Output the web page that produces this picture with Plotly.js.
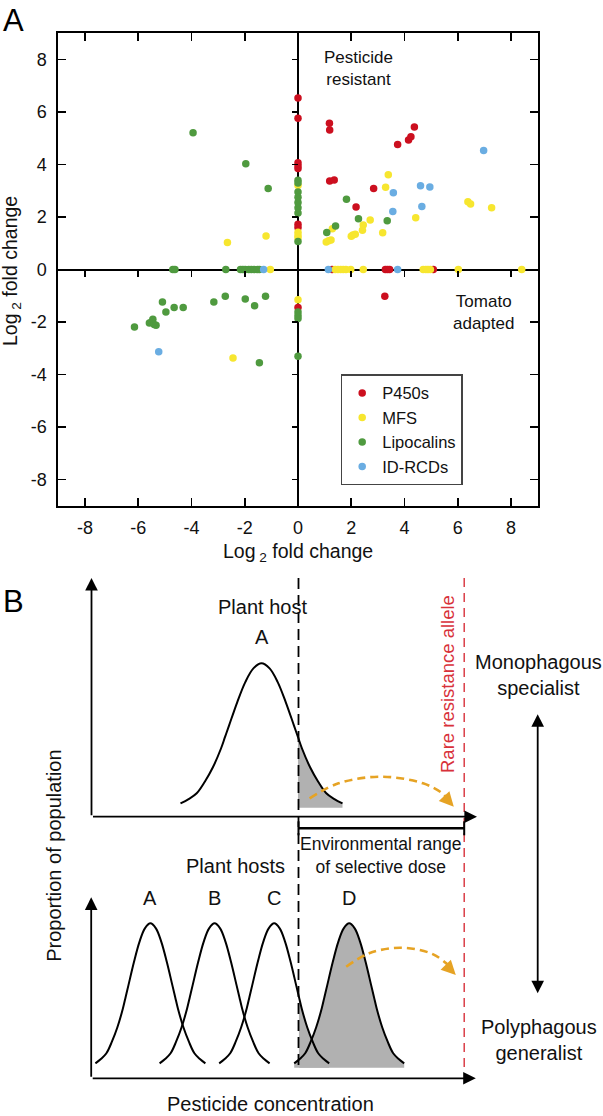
<!DOCTYPE html>
<html><head><meta charset="utf-8">
<script src="https://cdn.plot.ly/plotly-3.0.1.min.js"></script>
<style>html,body{margin:0;padding:0;background:#fff}#chart{width:603px;height:1116px}</style>
</head><body><div id="chart"></div>
<script>
// ---------------- Panel A data (log2 fold change) ----------------
const seriesNames = ['P450s', 'MFS', 'Lipocalins', 'ID-RCDs'];

const p450X = [0, 0, 0, 0, 0, 0, 0, 0, 1.18, 1.19, 1.19, 1.36, 2.84, 2.18, 3.74, 4.15, 4.24, 4.37, 3.26, 1.28, 3.28, 3.36, 3.44, 5.08];
const p450Y = [6.53, 5.76, 4.07, 3.95, 3.85, 1.72, 1.6, -1.45, 5.57, 5.32, 3.37, 3.41, 3.09, 2.38, 4.76, 4.93, 5.06, 5.43, -1.02, 0, 0, 0, 0, 0];

const mfsX = [0, 0, 0, 0, 0, -2.65, -1.2, -2.44, -1.04, 3.39, 3.29, 2.71, 2.45, 2.42, 3.18, 4.42, 6.38, 6.48, 7.27, 2.0, 2.06, 2.15, 1.29, 1.06, 1.24, 1.15, 1.4, 1.5, 1.6, 1.7, 1.8, 1.98, 2.45, 4.7, 4.8, 4.88, 4.97, 6.02, 8.4];
const mfsY = [3.2, 1.42, 1.3, 1.2, -1.15, 1.03, 1.28, -3.37, 0, 3.61, 3.13, 1.89, 1.7, 1.5, 1.4, 1.97, 2.58, 2.5, 2.35, 1.27, 1.31, 1.34, 1.55, 1.05, 1.12, 1.1, 0, 0, 0, 0, 0, 0, 0, 0, 0, 0, 0, 0, 0];

const lipoX = [0, 0, 0, 0, 0, 0, 0, 0, 0, 0, 0, 0, -3.94, -1.96, -1.12, 1.08, 1.41, 1.82, 2.27, 3.35, -6.14, -5.58, -5.5, -5.45, -5.4, -5.33, -5.09, -4.96, -4.65, -4.31, -3.16, -2.73, -1.98, -1.63, -1.22, -1.45, -4.7, -4.62, -2.71, -2.16, -2.07, -1.98, -1.85, -1.75, -1.65, -1.53, -1.45];
const lipoY = [3.4, 3.3, 2.95, 2.75, 2.55, 2.35, 2.15, 1.07, -1.62, -1.75, -1.87, -3.31, 5.21, 4.03, 3.09, 1.41, 1.66, 2.68, 1.93, 1.86, -2.19, -2.04, -2.0, -1.9, -2.1, -2.12, -1.24, -1.62, -1.45, -1.45, -1.24, -1.02, -1.12, -1.38, -1.02, -3.55, 0, 0, 0, 0, 0, 0, 0, 0, 0, 0, 0];

const rcdX = [6.97, 4.6, 4.95, 3.58, 4.65, 3.56, -5.23, -1.29, 1.14, 3.74];
const rcdY = [4.53, 3.19, 3.14, 2.92, 2.4, 2.21, -3.13, 0, 0, 0];

const axisTicks = [-8, -6, -4, -2, 0, 2, 4, 6, 8];
const axisTickLabels = ['-8', '-6', '-4', '-2', '0', '2', '4', '6', '8'];

// ---------------- Panel B schematic values ----------------
// bell-curve profile: offset (in half-widths) and relative height
const profileU = [-1, -0.9, -0.8, -0.7, -0.6, -0.5, -0.45, -0.4, -0.3, -0.2, -0.1, 0, 0.1, 0.2, 0.3, 0.4, 0.45, 0.5, 0.6, 0.7, 0.8, 0.9, 1];
const profileH = [0.03, 0.06, 0.1, 0.18, 0.28, 0.41, 0.49, 0.57, 0.73, 0.87, 0.965, 1, 0.965, 0.87, 0.73, 0.57, 0.49, 0.41, 0.28, 0.18, 0.1, 0.06, 0.03];
const hostLabelsTop = ['A'];
const hostLabelsBottom = ['A', 'B', 'C', 'D'];

// ---------------- schematic geometry (pixel frame of panel B) ----------------
const G = {
  top: {center: [261.5], half: 81, base: 807.7, peak: 663.3, axisX: 91.5, axisY: 816.7, axisTop: 578, axisRight: 477},
  bot: {center: [150.4, 214.6, 274.2, 349.2], half: 55, base: 1067.7, peak: 923.3, axisX: 91.2, axisY: 1078.3, axisTop: 897.3, axisRight: 475.8},
  doseX: 298.5, alleleX: 464.2, lineTop: 578, lineBottom: 1068, barY: 828.3
};
const arcTopX = [309.6, 338.5, 380.8, 423, 442.3, 449];
const arcTopY = [798.3, 783.3, 776.7, 783.3, 793.3, 801];
const arcBotX = [346.2, 369.2, 400, 430.8, 446.2, 451];
const arcBotY = [966.7, 953.3, 947.7, 953.3, 963.3, 969.5];

const colors = ['#cc0f1f', '#f7e62f', '#4f9a3f', '#6aade2'];
const FONT = 'Liberation Sans, Arial, Helvetica, sans-serif';
const GREY = '#b1b1b1';
const ORANGE = '#e6a324';
const RED = '#d8313a';

const W = 603, H = 1116;
const xDomA = [58.3 / W, 537.7 / W];
const yDomA = [1 - 505.7 / H, 1 - 33.3 / H];

const traces = [];
const seriesX = [p450X, mfsX, lipoX, rcdX];
const seriesY = [p450Y, mfsY, lipoY, rcdY];
seriesNames.forEach((n, i) => {
  traces.push({type: 'scatter', mode: 'markers', name: n, x: seriesX[i], y: seriesY[i],
    xaxis: 'x', yaxis: 'y', marker: {color: colors[i], size: 7.5, line: {width: 0}}, cliponaxis: false});
});
// helper axes for ticks on the zero lines
traces.push({type: 'scatter', x: [], y: [], xaxis: 'x3', yaxis: 'y3', showlegend: false, hoverinfo: 'skip'});

// Panel B curves
function curve(center, g) {
  return {
    x: profileU.map(u => center + u * g.half),
    y: profileH.map(h => g.base - h * (g.base - g.peak))
  };
}
function tailFill(center, g) {
  const c = curve(center, g);
  const xs = [], ys = [];
  profileU.forEach((u, i) => { if (u >= 0.45) { xs.push(c.x[i]); ys.push(c.y[i]); } });
  xs.push(xs[xs.length - 1], xs[0], xs[0]);
  ys.push(g.base, g.base, ys[0]);
  return {x: xs, y: ys};
}
function fullFill(center, g) {
  const c = curve(center, g);
  return {x: c.x.concat([c.x[c.x.length - 1], c.x[0]]), y: c.y.concat([g.base, g.base])};
}
const fills = [tailFill(G.top.center[0], G.top), tailFill(G.bot.center[2], G.bot), fullFill(G.bot.center[3], G.bot)];
fills.forEach(f => traces.push({type: 'scatter', mode: 'lines', x: f.x, y: f.y, xaxis: 'x2', yaxis: 'y2',
  fill: 'toself', fillcolor: GREY, line: {width: 0, color: GREY}, showlegend: false, hoverinfo: 'skip'}));

G.top.center.concat(G.bot.center).forEach((c, i) => {
  const g = i < G.top.center.length ? G.top : G.bot;
  const cv = curve(c, g);
  traces.push({type: 'scatter', mode: 'lines', x: cv.x, y: cv.y, xaxis: 'x2', yaxis: 'y2',
    line: {color: '#000', width: 2, shape: 'spline', smoothing: 1}, showlegend: false, hoverinfo: 'skip'});
});
[[arcTopX, arcTopY], [arcBotX, arcBotY]].forEach(a => traces.push({type: 'scatter', mode: 'lines', x: a[0], y: a[1],
  xaxis: 'x2', yaxis: 'y2', line: {color: ORANGE, width: 2.6, dash: '8px,5px', shape: 'spline'}, showlegend: false, hoverinfo: 'skip'}));

// shapes
const shapes = [
  {type: 'line', xref: 'x2', yref: 'y2', x0: G.doseX, x1: G.doseX, y0: G.lineTop, y1: G.lineBottom, line: {color: '#000', width: 1.8, dash: '11px,6px'}},
  {type: 'line', xref: 'x2', yref: 'y2', x0: G.alleleX, x1: G.alleleX, y0: G.lineTop, y1: G.lineBottom, line: {color: RED, width: 1.4, dash: '9px,6px'}},
  {type: 'line', xref: 'x2', yref: 'y2', x0: G.doseX, x1: G.alleleX, y0: G.barY, y1: G.barY, line: {color: '#000', width: 2.6}},
  {type: 'line', xref: 'x2', yref: 'y2', x0: G.doseX, x1: G.doseX, y0: G.barY - 7, y1: G.barY + 7, line: {color: '#000', width: 2}},
  {type: 'line', xref: 'x2', yref: 'y2', x0: G.alleleX, x1: G.alleleX, y0: G.barY - 7, y1: G.barY + 7, line: {color: '#000', width: 2}}
];

// annotations
function txt(x, y, text, size, extra) {
  return Object.assign({xref: 'x2', yref: 'y2', x: x, y: y, text: text, showarrow: false,
    font: {family: FONT, size: size, color: '#111'}, xanchor: 'center', yanchor: 'middle'}, extra || {});
}
function ptxt(x, y, text, size, extra) {
  return Object.assign({xref: 'paper', yref: 'paper', x: x / W, y: 1 - y / H, text: text, showarrow: false,
    font: {family: FONT, size: size, color: '#111'}, xanchor: 'center', yanchor: 'middle'}, extra || {});
}
function arrow(x0, y0, x1, y1, extra) {
  return Object.assign({xref: 'x2', yref: 'y2', axref: 'x2', ayref: 'y2', x: x1, y: y1, ax: x0, ay: y0, text: '',
    showarrow: true, arrowhead: 2, arrowsize: 1.4, arrowwidth: 1.8, arrowcolor: '#000', standoff: 0, startstandoff: 0}, extra || {});
}
const ann = [
  ptxt(14, 21, 'A', 31, {font: {family: FONT, size: 31, color: '#000'}}),
  ptxt(13, 601, 'B', 31, {font: {family: FONT, size: 31, color: '#000'}}),
  ptxt(298, 552, 'Log<sub> 2</sub> fold change', 19.5),
  ptxt(12, 271, 'Log<sub> 2</sub> fold change', 19.5, {textangle: -90}),
  {xref: 'x', yref: 'y', x: 2.26, y: 7.66, text: 'Pesticide<br>resistant', showarrow: false, xanchor: 'center', yanchor: 'middle', font: {family: FONT, size: 17, color: '#111'}},
  {xref: 'x', yref: 'y', x: 6.97, y: -1.65, text: 'Tomato<br>adapted', showarrow: false, xanchor: 'center', yanchor: 'middle', font: {family: FONT, size: 17, color: '#111'}},
  txt(262, 607, 'Plant host', 20),
  txt(235.6, 865.7, 'Plant hosts', 20),
  txt(380, 855.4, 'Environmental range<br>of selective dose', 17.5),
  txt(538.5, 674.5, 'Monophagous<br>specialist', 20),
  txt(538.5, 1039.8, 'Polyphagous<br>generalist', 20),
  txt(270.7, 1104, 'Pesticide concentration', 20),
  txt(53.8, 856, 'Proportion of population', 20, {textangle: -90}),
  txt(447, 684, 'Rare resistance allele', 18.5, {textangle: -90, font: {family: FONT, size: 18.5, color: RED}}),
  arrow(G.top.axisX, G.top.axisY, G.top.axisX, G.top.axisTop),
  arrow(G.top.axisX, G.top.axisY, G.top.axisRight, G.top.axisY),
  arrow(G.bot.axisX, G.bot.axisY, G.bot.axisX, G.bot.axisTop),
  arrow(G.bot.axisX, G.bot.axisY, G.bot.axisRight, G.bot.axisY),
  arrow(537.7, 712.7, 537.7, 993.3, {arrowside: 'end+start', arrowwidth: 1.8}),
  arrow(444, 796, 453.8, 806.7, {arrowcolor: ORANGE, arrowwidth: 2.4, arrowsize: 1.2}),
  arrow(446, 965, 455.8, 975, {arrowcolor: ORANGE, arrowwidth: 2.4, arrowsize: 1.2})
];
hostLabelsTop.forEach((l, i) => ann.push(txt(G.top.center[i], 637, l, 20)));
hostLabelsBottom.forEach((l, i) => ann.push(txt(G.bot.center[i], 898.3, l, 20)));

const axA = {range: [-9, 9], tickmode: 'array', tickvals: axisTicks, ticktext: axisTickLabels, ticks: 'inside', ticklen: 8, tickwidth: 1.6, tickcolor: '#000',
  showline: true, mirror: 'ticks', linewidth: 2, linecolor: '#000', zeroline: true, zerolinewidth: 2, zerolinecolor: '#000',
  showgrid: false, tickfont: {family: FONT, size: 18, color: '#111'}, fixedrange: true};

const layout = {
  width: W, height: H, margin: {l: 0, r: 0, t: 0, b: 0}, paper_bgcolor: '#fff', plot_bgcolor: 'rgba(0,0,0,0)',
  font: {family: FONT, color: '#111'}, showlegend: true,
  legend: {x: 340.7 / W, y: 1 - 374.3 / H, xanchor: 'left', yanchor: 'top', bgcolor: '#fff', bordercolor: '#444', borderwidth: 1.5,
    font: {family: FONT, size: 16.5, color: '#111'}, itemwidth: 30, tracegroupgap: 0},
  xaxis: Object.assign({}, axA, {domain: xDomA, anchor: 'y', ticklabelstandoff: 5}),
  yaxis: Object.assign({}, axA, {domain: yDomA, anchor: 'x', ticklabelstandoff: 6}),
  xaxis3: {overlaying: 'x', anchor: 'free', position: (yDomA[0] + yDomA[1]) / 2, range: [-9, 9], tickvals: axisTicks,
    ticks: 'outside', ticklen: 6, tickwidth: 1.6, tickcolor: '#000', showticklabels: false, showline: false, zeroline: false, showgrid: false, side: 'bottom'},
  yaxis3: {overlaying: 'y', anchor: 'free', position: (xDomA[0] + xDomA[1]) / 2, range: [-9, 9], tickvals: axisTicks,
    ticks: 'outside', ticklen: 6, tickwidth: 1.6, tickcolor: '#000', showticklabels: false, showline: false, zeroline: false, showgrid: false, side: 'left'},
  xaxis2: {domain: [0, 1], range: [0, W], visible: false, anchor: 'y2', fixedrange: true},
  yaxis2: {domain: [0, 1 - 560 / H], range: [H, 560], visible: false, anchor: 'x2', fixedrange: true},
  shapes: shapes, annotations: ann
};
Plotly.newPlot('chart', traces, layout, {displayModeBar: false, staticPlot: true});
</script></body></html>
